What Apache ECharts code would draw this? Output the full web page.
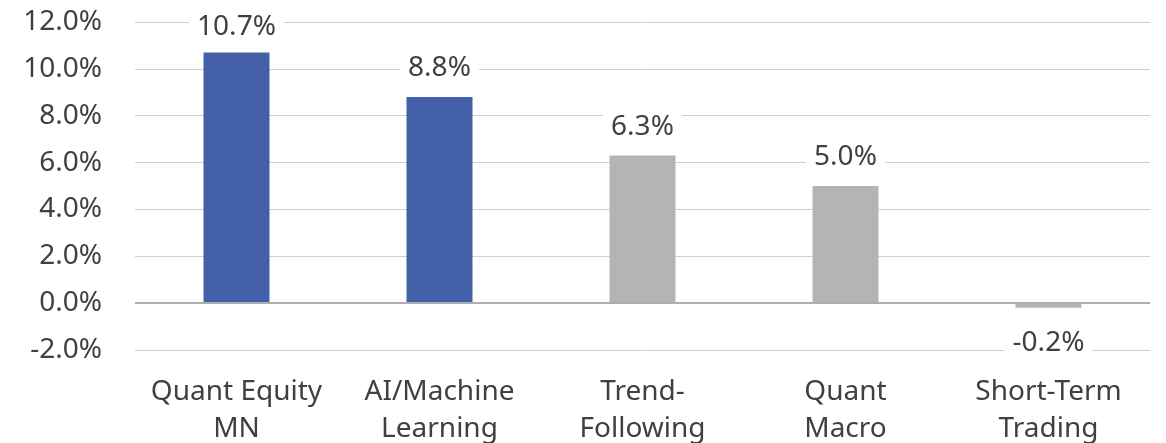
<!DOCTYPE html>
<html>
<head>
<meta charset="utf-8">
<script src="https://cdn.jsdelivr.net/npm/echarts@6/dist/echarts.min.js"></script>
<style>
html,body{margin:0;padding:0;background:#fff;}
#c{width:1166px;height:443px;}
</style>
</head>
<body>
<div id="c"></div>
<script>
const categories = ['Quant Equity\nMN', 'AI/Machine\nLearning', 'Trend-\nFollowing', 'Quant\nMacro', 'Short-Term\nTrading'];
const values = [10.7, 8.8, 6.3, 5.0, -0.2];
const colors = ['#4360A8', '#4360A8', '#B4B4B4', '#B4B4B4', '#B4B4B4'];
const yTicks = { min: -2, max: 12, interval: 2 };

const FONT = '"Noto Sans", sans-serif';
const chart = echarts.init(document.getElementById('c'));
chart.setOption({
  animation: false,
  backgroundColor: '#fff',
  grid: { left: 135, right: 16, top: 22, bottom: 93, containLabel: false, outerBoundsMode: 'none' },
  xAxis: {
    type: 'category',
    data: categories,
    axisLine: { show: false, onZero: false },
    axisTick: { show: false },
    axisLabel: { color: '#404040', fontSize: 28, fontFamily: FONT, lineHeight: 37, margin: 24, interval: 0 }
  },
  yAxis: {
    type: 'value',
    min: yTicks.min, max: yTicks.max, interval: yTicks.interval,
    axisLine: { show: false },
    axisTick: { show: false },
    splitLine: { lineStyle: { color: '#D0D0D0', width: 1 } },
    axisLabel: { color: '#404040', fontSize: 28, fontFamily: FONT, margin: 33,
      formatter: v => v.toFixed(1) + '%' }
  },
  series: [{
    type: 'bar',
    barWidth: '32.5%',
    data: values.map((v, i) => ({
      value: v,
      itemStyle: { color: colors[i] },
      label: v < 0 ? { position: 'bottom', distance: 21 }
           : { position: 'top', distance: v > 10 ? 11 : 15 }
    })),
    label: {
      show: true,
      color: '#404040', fontSize: 28, fontFamily: FONT, lineHeight: 28,
      backgroundColor: '#fff', padding: [0, 8],
      formatter: p => p.value.toFixed(1) + '%'
    },
    markLine: {
      silent: true, symbol: 'none',
      label: { show: false },
      lineStyle: { color: '#ADADAD', width: 2, type: 'solid' },
      data: [{ yAxis: 0 }]
    }
  }]
});
</script>
</body>
</html>
